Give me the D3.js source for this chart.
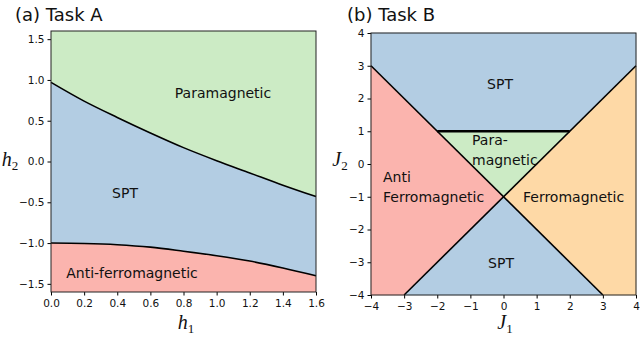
<!DOCTYPE html>
<html>
<head>
<meta charset="utf-8">
<script src="https://cdn.jsdelivr.net/npm/d3@7"></script>
<style>
  body { margin: 0; background: #fff; }
  text { font-family: "DejaVu Sans", sans-serif; fill: #111; }
  .math { font-family: "Liberation Serif", "DejaVu Serif", serif; font-style: italic; }
</style>
</head>
<body>
<svg id="chart" width="640" height="363"></svg>
<script>
// ---- data, panel (a) ----
var h1Ticks = [0, 0.2, 0.4, 0.6, 0.8, 1.0, 1.2, 1.4, 1.6];
var h2Ticks = [-1.5, -1.0, -0.5, 0.0, 0.5, 1.0, 1.5];
var upperH1 = [0, 0.2, 0.4, 0.6, 0.8, 1.0, 1.2, 1.4, 1.6];
var upperH2 = [0.97, 0.74, 0.54, 0.35, 0.17, 0.01, -0.14, -0.29, -0.43];
var lowerH1 = [0, 0.2, 0.4, 0.6, 0.8, 1.0, 1.2, 1.4, 1.6];
var lowerH2 = [-1.0, -1.005, -1.02, -1.05, -1.1, -1.155, -1.22, -1.305, -1.40];

// ---- data, panel (b) ----
var jTicks = [-4, -3, -2, -1, 0, 1, 2, 3, 4];
var regionsB = [
  { name: "SPT top", color: "#b3cde3", pts: [[-4, 4], [4, 4], [4, 3], [2, 1], [-2, 1], [-4, 3]] },
  { name: "Para", color: "#ccebc5", pts: [[-2, 1], [2, 1], [0, -1]] },
  { name: "AFM", color: "#fbb4ae", pts: [[-4, 3], [0, -1], [-3, -4], [-4, -4]] },
  { name: "FM", color: "#fed9a6", pts: [[4, 3], [0, -1], [3, -4], [4, -4]] },
  { name: "SPT bottom", color: "#b3cde3", pts: [[0, -1], [-3, -4], [3, -4]] }
];
var linesB = [
  { pts: [[-4, 3], [3, -4]], w: 1.6 },
  { pts: [[4, 3], [-3, -4]], w: 1.6 },
  { pts: [[-2, 1], [2, 1]], w: 2.6 }
];

var svg = d3.select("#chart");

function axes(g, x, y, xt, yt, xfmt, yfmt) {
  g.append("g").attr("transform", "translate(0," + y.range()[0] + ")")
    .call(d3.axisBottom(x).tickValues(xt).tickFormat(xfmt).tickSize(3.5).tickSizeOuter(0))
    .call(function(a) { a.select(".domain").remove(); a.selectAll("text").attr("font-size", 10.5).attr("dy", "0.85em").attr("font-family", "DejaVu Sans"); });
  g.append("g").attr("transform", "translate(" + x.range()[0] + ",0)")
    .call(d3.axisLeft(y).tickValues(yt).tickFormat(yfmt).tickSize(3.5).tickSizeOuter(0))
    .call(function(a) { a.select(".domain").remove(); a.selectAll("text").attr("font-size", 10.5).attr("font-family", "DejaVu Sans"); });
  g.append("rect")
    .attr("x", x.range()[0]).attr("y", y.range()[1])
    .attr("width", x.range()[1] - x.range()[0]).attr("height", y.range()[0] - y.range()[1])
    .attr("fill", "none").attr("stroke", "#222").attr("stroke-width", 1);
}

function mathLabel(g, x, y, base, sub) {
  var t = g.append("text").attr("class", "math").attr("x", x).attr("y", y)
    .attr("font-size", 20).attr("text-anchor", "middle");
  t.append("tspan").text(base);
  t.append("tspan").attr("font-size", 13).attr("font-style", "normal").attr("dy", 4).text(sub);
}

// ---------- panel (a) ----------
var xa = d3.scaleLinear().domain([0, 1.6]).range([51, 316]);
var ya = d3.scaleLinear().domain([-1.6, 1.6]).range([292, 31]);
var ga = svg.append("g");

var upper = upperH1.map(function(d, i) { return [d, upperH2[i]]; });
var lower = lowerH1.map(function(d, i) { return [d, lowerH2[i]]; });
var line = d3.line().x(function(d) { return xa(d[0]); }).y(function(d) { return ya(d[1]); }).curve(d3.curveMonotoneX);
var area = d3.area().x(function(d) { return xa(d[0]); }).y0(ya(-1.6)).y1(function(d) { return ya(d[1]); }).curve(d3.curveMonotoneX);

ga.append("rect").attr("x", xa(0)).attr("y", ya(1.6)).attr("width", xa(1.6) - xa(0)).attr("height", ya(-1.6) - ya(1.6)).attr("fill", "#ccebc5");
ga.append("path").attr("fill", "#b3cde3").attr("d", area(upper));
ga.append("path").attr("fill", "#fbb4ae").attr("d", area(lower));
ga.append("path").attr("d", line(upper)).attr("fill", "none").attr("stroke", "#000").attr("stroke-width", 1.6);
ga.append("path").attr("d", line(lower)).attr("fill", "none").attr("stroke", "#000").attr("stroke-width", 1.6);

axes(ga, xa, ya, h1Ticks, h2Ticks, d3.format(".1f"), function(d) { return d3.format(".1f")(d).replace("-", "\u2212"); });

ga.append("text").attr("x", 223).attr("y", 98).attr("font-size", 14).attr("text-anchor", "middle").text("Paramagnetic");
ga.append("text").attr("x", 125).attr("y", 198).attr("font-size", 14).attr("text-anchor", "middle").text("SPT");
ga.append("text").attr("x", 132).attr("y", 278).attr("font-size", 14).attr("text-anchor", "middle").text("Anti-ferromagnetic");
ga.append("text").attr("x", 15).attr("y", 21).attr("font-size", 18).text("(a) Task A");
mathLabel(ga, 186, 329, "h", "1");
mathLabel(ga, 10, 166, "h", "2");

// ---------- panel (b) ----------
var xb = d3.scaleLinear().domain([-4, 4]).range([371, 636]);
var yb = d3.scaleLinear().domain([-4, 4]).range([295, 33]);
var gb = svg.append("g");
var pline = d3.line().x(function(d) { return xb(d[0]); }).y(function(d) { return yb(d[1]); });

gb.selectAll("path.region").data(regionsB).enter().append("path")
  .attr("class", "region").attr("fill", function(d) { return d.color; })
  .attr("stroke", function(d) { return d.color; }).attr("stroke-width", 0.5)
  .attr("d", function(d) { return pline(d.pts) + "Z"; });
gb.selectAll("path.bound").data(linesB).enter().append("path")
  .attr("class", "bound").attr("fill", "none").attr("stroke", "#000")
  .attr("stroke-width", function(d) { return d.w; })
  .attr("d", function(d) { return pline(d.pts); });

var fmtJ = function(d) { return String(d).replace("-", "\u2212"); };
axes(gb, xb, yb, jTicks, jTicks, fmtJ, fmtJ);

gb.append("text").attr("x", 500).attr("y", 89).attr("font-size", 14).attr("text-anchor", "middle").text("SPT");
gb.append("text").attr("x", 472).attr("y", 145).attr("font-size", 14).text("Para-");
gb.append("text").attr("x", 472).attr("y", 165).attr("font-size", 14).text("magnetic");
gb.append("text").attr("x", 383).attr("y", 182).attr("font-size", 14).text("Anti");
gb.append("text").attr("x", 383).attr("y", 202).attr("font-size", 14).text("Ferromagnetic");
gb.append("text").attr("x", 523).attr("y", 202).attr("font-size", 14).text("Ferromagnetic");
gb.append("text").attr("x", 501).attr("y", 268).attr("font-size", 14).attr("text-anchor", "middle").text("SPT");
gb.append("text").attr("x", 347).attr("y", 21).attr("font-size", 18).text("(b) Task B");
mathLabel(gb, 505, 329, "J", "1");
mathLabel(gb, 340, 166, "J", "2");
</script>
</body>
</html>
